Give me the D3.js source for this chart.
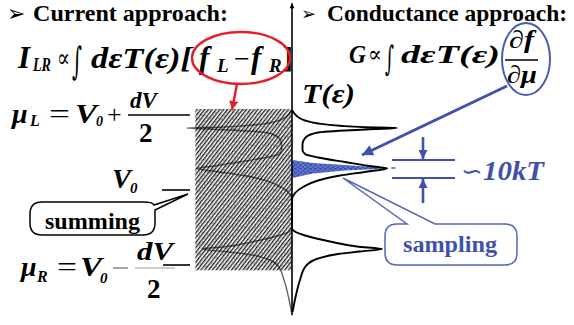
<!DOCTYPE html>
<html><head><meta charset="utf-8">
<script src="https://cdn.jsdelivr.net/npm/d3@7"></script>
<style>html,body{margin:0;padding:0;background:#fff}svg{display:block}</style>
</head><body>
<svg id="c" width="574" height="325"></svg>
<script>
// ---- data (energy in units of dV/2 relative to V0; T normalised to tallest peak) ----
const curveEnergy = [1.067,1.027,0.973,0.927,0.887,0.856,0.837,0.827,0.811,0.793,0.776,0.747,0.693,0.613,0.533,0.48,0.433,0.373,0.323,0.287,0.247,0.193,0.127,0.04,-0.04,-0.133,-0.507,-0.547,-0.607,-0.687,-0.753,-0.787,-0.82,-0.853,-0.913,-1.013,-1.2,-1.4,-1.627];
const curveT = [0,0.019,0.057,0.124,0.248,0.457,0.695,1.0,0.79,0.505,0.314,0.19,0.124,0.1,0.1,0.124,0.248,0.505,0.724,0.905,0.724,0.457,0.248,0.105,0.029,0,0,0.019,0.124,0.362,0.619,0.857,0.648,0.438,0.248,0.133,0.076,0.038,0.005];
const levelNames = ["muL","V0","muR"];
const levelValues = [1, 0, -1];
const windowRange = [-1.07, 1.08];      // summing window (mu_R .. mu_L)
const bandT = [0, 0.2, 0.5, 0.86];
const bandUpper = [0.4, 0.36, 0.333, 0.3];
const bandLower = [0.16, 0.22, 0.26, 0.285];
const kTLevels = [0.4, 0.16];
const axisRange = [-1.67, 2.49];

const BLUE = "#3f50ad", RED = "#e3202a";
const svg = d3.select("#c");
const yE = d3.scaleLinear().domain([-1, 1]).range([265, 115]);
const xT = d3.scaleLinear().domain([0, 1]).range([292, 397]);
const xTm = d3.scaleLinear().domain([0, 1]).range([292, 187]);

const defs = svg.append("defs");
const hp = defs.append("pattern").attr("id","hatch").attr("patternUnits","userSpaceOnUse")
  .attr("width",3).attr("height",3).attr("patternTransform","rotate(38)");
hp.append("rect").attr("width",3).attr("height",3).attr("fill","#ffffff");
hp.append("line").attr("x1",0.65).attr("x2",0.65).attr("y1",0).attr("y2",3).attr("stroke","#161616").attr("stroke-width",1.3);
const gp = defs.append("pattern").attr("id","gspeck").attr("patternUnits","userSpaceOnUse").attr("width",11).attr("height",9);
[[2,2,1.6],[7,5,1.4],[4,7.5,1.2],[9.5,1,1.1]].forEach(d=>gp.append("circle").attr("cx",d[0]).attr("cy",d[1]).attr("r",d[2]).attr("fill","#858585").attr("opacity",0.65));
const bp = defs.append("pattern").attr("id","bspeck").attr("patternUnits","userSpaceOnUse").attr("width",5).attr("height",4);
bp.append("rect").attr("width",5).attr("height",4).attr("fill","#6479cf");
[[1,1,0.9],[3.6,2.6,0.9],[2.2,3.6,0.7],[4.5,0.5,0.6]].forEach(d=>bp.append("circle").attr("cx",d[0]).attr("cy",d[1]).attr("r",d[2]).attr("fill","#2c42a6"));
function arrowHead(id,color,w,l){
  defs.append("marker").attr("id",id).attr("viewBox","0 0 10 10").attr("refX",10).attr("refY",5)
   .attr("markerUnits","userSpaceOnUse").attr("markerWidth",l).attr("markerHeight",w).attr("orient","auto")
   .append("path").attr("d","M0,0 L10,5 L0,10 Z").attr("fill",color);
}
arrowHead("ab",BLUE,11,14); arrowHead("ar",RED,9,10); arrowHead("abs",BLUE,9,9); arrowHead("ak","#000",5,6);

// summing window (hatched)
const wx = xTm(0.92), wy = yE(windowRange[1]), ww = xT(0)-xTm(0.92), wh = yE(windowRange[0])-yE(windowRange[1]);
svg.append("rect").attr("x",wx).attr("y",wy).attr("width",ww).attr("height",wh).attr("fill","url(#hatch)");
svg.append("rect").attr("x",wx).attr("y",wy).attr("width",ww).attr("height",wh).attr("fill","url(#gspeck)");

const pts = curveEnergy.map((e,i)=>[curveT[i],e]);
// mirrored half (mostly hidden in the hatching)
svg.append("path").datum(pts).attr("fill","none").attr("stroke","#000").attr("stroke-width",1.4).attr("opacity",0.6)
  .attr("d", d3.line().x(d=>xTm(d[0])).y(d=>yE(d[1])).curve(d3.curveMonotoneY));

// sampling band
const band = bandT.map((t,i)=>[t,bandUpper[i]]).concat(bandT.map((t,i)=>[t,bandLower[i]]).reverse());
svg.append("path").datum(band).attr("fill","url(#bspeck)").attr("stroke","none")
  .attr("d", d3.line().x(d=>xT(d[0])).y(d=>yE(d[1])).curve(d3.curveLinearClosed));
svg.append("line").attr("x1",xT(0.87)).attr("x2",xT(1.0)).attr("y1",yE(0.293)).attr("y2",yE(0.293))
  .attr("stroke","#6f84d4").attr("stroke-width",2).attr("stroke-dasharray","4,4");

// energy axis
svg.append("line").attr("x1",xT(0)).attr("x2",xT(0)).attr("y1",yE(axisRange[0])).attr("y2",yE(axisRange[1]))
  .attr("stroke","#000").attr("stroke-width",1.6).attr("marker-end","url(#ak)");

// right half of T(eps)
svg.append("path").datum(pts).attr("fill","none").attr("stroke","#000").attr("stroke-width",1.9)
  .attr("d", d3.line().x(d=>xT(d[0])).y(d=>yE(d[1])).curve(d3.curveMonotoneY));

// level dashes
const dashStart = {muL:128, V0:162, muR:163};
levelNames.forEach((n,i)=>{
  svg.append("line").attr("x1",dashStart[n]).attr("x2",190).attr("y1",yE(levelValues[i])).attr("y2",yE(levelValues[i]))
   .attr("stroke","#000").attr("stroke-width",1.6);
});

// 10kT bracket
kTLevels.forEach(k=>svg.append("line").attr("x1",392).attr("x2",455).attr("y1",yE(k)).attr("y2",yE(k))
  .attr("stroke",BLUE).attr("stroke-width",1.8));
svg.append("line").attr("x1",423).attr("x2",423).attr("y1",137).attr("y2",yE(kTLevels[0])-1)
  .attr("stroke",BLUE).attr("stroke-width",2.6).attr("marker-end","url(#abs)");
svg.append("line").attr("x1",423).attr("x2",423).attr("y1",203).attr("y2",yE(kTLevels[1])+1)
  .attr("stroke",BLUE).attr("stroke-width",2.6).attr("marker-end","url(#abs)");

// text helper
const SERIF = '"Liberation Serif","DejaVu Serif",serif';
function T(x,y,s,size,o={}){
  const t = svg.append("text").attr("x",x).attr("y",y).text(s)
   .style("font-family",o.family||SERIF).style("font-size",size+"px")
   .style("font-weight",o.bold===false?"normal":"bold")
   .style("font-style",o.italic?"italic":"normal").attr("fill",o.fill||"#000");
  if(o.len){t.attr("textLength",o.len).attr("lengthAdjust","spacingAndGlyphs");}
  if(o.anchor) t.attr("text-anchor",o.anchor);
  return t;
}
const SYM = '"DejaVu Serif",serif';
// headings
T(7,21,"\u27A2",22,{family:'"DejaVu Sans",sans-serif',bold:false});
T(33,21,"Current approach:",24,{len:195});
T(301,20,"\u27A2",18,{family:'"DejaVu Sans",sans-serif',bold:false});
T(327,21,"Conductance approach:",24,{len:240});

// formula 1
T(18,68,"I",31,{italic:true});
T(33,71,"LR",18,{italic:true,len:18});
T(57,67,"\u221D",26,{family:SYM,bold:false,len:13});
T(72,74,"\u222B",38,{bold:false,family:SYM,len:10});
T(91,68,"d\u03B5T(\u03B5)[",30,{italic:true,len:101});
T(199,68,"f",31,{italic:true});
T(217,72,"L",19,{italic:true});
T(234,68,"\u2212",28,{bold:false});
T(251,68,"f",31,{italic:true});
T(269,72,"R",19,{italic:true});
T(283,68,"]",30,{});

// formula 2
T(349,63,"G",26,{italic:true,len:17});
T(368,62,"\u221D",23,{family:SYM,bold:false,len:14});
T(385,70,"\u222B",34,{bold:false,family:SYM,len:9});
T(401,63,"d\u03B5T(\u03B5)",26,{italic:true,len:99});
T(509,48,"\u2202f",25,{italic:true,len:25});
svg.append("line").attr("x1",505).attr("x2",538).attr("y1",60).attr("y2",60).attr("stroke","#000").attr("stroke-width",1.5);
T(507,83,"\u2202\u03BC",25,{italic:true,len:30});

// T(eps) label
T(302,103,"T(\u03B5)",27,{italic:true,len:53});

// mu_L line
T(12,123,"\u03BC",28,{italic:true});
T(30,126,"L",16,{italic:true});
T(49,123,"=",28,{bold:false,len:21});
T(75,123,"V",27,{italic:true,len:22});
T(96,126,"0",14,{italic:true});
T(107,123,"+",26,{bold:false});
T(130,108,"dV",24,{italic:true,len:27});
T(139,142,"2",27,{});

// V0
T(112,188,"V",27,{italic:true,len:19});
T(130,193,"0",15,{italic:true});

// mu_R line
T(21,276,"\u03BC",28,{italic:true});
T(37,282,"R",16,{italic:true});
T(57,276,"=",28,{bold:false,len:20});
T(80,276,"V",27,{italic:true,len:22});
T(100,283,"0",15,{italic:true});
svg.append("line").attr("x1",113).attr("x2",128).attr("y1",268).attr("y2",268).attr("stroke","#777").attr("stroke-width",1.3);
svg.append("line").attr("x1",135).attr("x2",175).attr("y1",268).attr("y2",268).attr("stroke","#999").attr("stroke-width",1.2);
T(137,260,"dV",25,{italic:true,len:36});
T(147,298,"2",27,{});

// summing callout
svg.append("path").attr("d","M42,202 H143 Q153,202 154,205 L188,194 L155,210 V223 Q155,235 143,235 H42 Q30,235 30,223 V214 Q30,202 42,202 Z")
  .attr("fill","#fff").attr("stroke","#000").attr("stroke-width",1.5);
T(45,229,"summing",24,{len:95});

// sampling callout
svg.append("path").attr("d","M397,224 H407 L343,178 L435,224 H505 Q517,224 517,236 V253 Q517,265 505,265 H397 Q385,265 385,253 V236 Q385,224 397,224 Z")
  .attr("fill","#fff").attr("stroke","#5566bb").attr("stroke-width",1.5);
T(403,252,"sampling",24,{len:94,fill:BLUE});

// 10kT label
T(461,180,"\u223D",26,{family:SYM,fill:BLUE,bold:false});
T(483,180,"10kT",27,{italic:true,fill:BLUE,len:61});

// ellipses & arrows
svg.append("ellipse").attr("cx",241).attr("cy",58).attr("rx",49).attr("ry",26).attr("fill","none").attr("stroke",RED).attr("stroke-width",2.4);
svg.append("line").attr("x1",237).attr("y1",84).attr("x2",232).attr("y2",110).attr("stroke",RED).attr("stroke-width",2.4).attr("marker-end","url(#ar)");
svg.append("ellipse").attr("cx",526).attr("cy",59).attr("rx",24).attr("ry",36).attr("fill","none").attr("stroke","#4a5ab0").attr("stroke-width",2);
svg.append("line").attr("x1",507).attr("y1",86).attr("x2",362).attr("y2",155).attr("stroke",BLUE).attr("stroke-width",3).attr("marker-end","url(#ab)");
</script>
</body></html>
